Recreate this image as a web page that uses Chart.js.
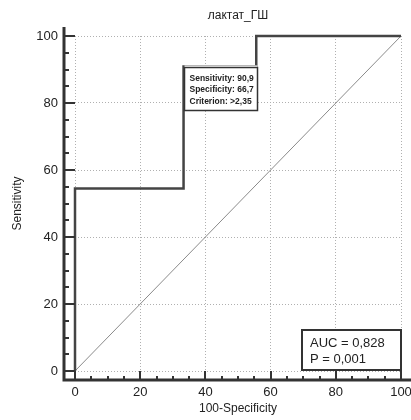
<!DOCTYPE html>
<html>
<head>
<meta charset="utf-8">
<script src="https://cdn.jsdelivr.net/npm/chart.js@4"></script>
<style>
  body { margin: 0; background: #fff; }
  #wrap { width: 411px; height: 420px; }
</style>
</head>
<body>
<div id="wrap"><canvas id="roc"></canvas></div>
<script>
const rocX = [0, 0, 33.3, 33.3, 55.6, 55.6, 100];
const rocY = [0, 54.5, 54.5, 90.9, 90.9, 100, 100];
const diagX = [0, 100];
const diagY = [0, 100];
const ticksEje = [0, 20, 40, 60, 80, 100];
const puntoCorte = { x: 33.3, y: 90.9 };
const textoCorte = ['Sensitivity: 90,9', 'Specificity: 66,7', 'Criterion: >2,35'];
const textoAuc = ['AUC = 0,828', 'P = 0,001'];

const fuente = '"Liberation Sans", Arial, sans-serif';

//* dibuja los ejes separados del area, con marcas mayores y menores
const ejes = {
    id: 'ejes',
    afterDraw(chart) {
        const { ctx, chartArea, scales } = chart;
        const ax = chartArea.left - 11;
        const ay = chartArea.bottom + 9;
        ctx.save();
        ctx.strokeStyle = '#333';
        ctx.lineWidth = 3;
        ctx.beginPath();
        ctx.moveTo(ax, chartArea.top - 9);
        ctx.lineTo(ax, ay + 1.5);
        ctx.moveTo(ax - 1.5, ay);
        ctx.lineTo(chart.width, ay);
        ctx.stroke();
        ctx.lineWidth = 2;
        ctx.beginPath();
        for (let v = 0; v <= 100; v += 5) {
            const largo = v % 20 === 0 ? 11 : 5;
            const py = Math.round(scales.y.getPixelForValue(v));
            ctx.moveTo(ax, py);
            ctx.lineTo(ax + largo, py);
            const px = Math.round(scales.x.getPixelForValue(v));
            const largoX = v % 20 === 0 ? 9 : 4;
            ctx.moveTo(px, ay);
            ctx.lineTo(px, ay - largoX);
        }
        ctx.stroke();
        ctx.restore();
    },
    afterDatasetsDraw(chart) {
        const { ctx, chartArea, scales } = chart;
        ctx.save();
        //* recuadro del punto de corte
        const bx = Math.round(scales.x.getPixelForValue(puntoCorte.x)) + 0.5;
        const by = Math.round(scales.y.getPixelForValue(puntoCorte.y)) + 1.5;
        ctx.fillStyle = '#fff';
        ctx.fillRect(bx, by - 2, 73, 45);
        ctx.strokeStyle = '#333';
        ctx.lineWidth = 1.5;
        ctx.strokeRect(bx, by, 73, 43);
        ctx.fillStyle = '#222';
        ctx.font = 'bold 8.5px ' + fuente;
        ctx.textBaseline = 'middle';
        textoCorte.forEach((t, i) => ctx.fillText(t, bx + 5, by + 11 + i * 11.5));

        //* recuadro AUC
        const w = 99, h = 40;
        const ux = chartArea.right - w;
        const uy = chartArea.bottom - h - 1;
        ctx.fillStyle = '#fff';
        ctx.fillRect(ux, uy, w, h);
        ctx.lineWidth = 2;
        ctx.strokeRect(ux, uy, w, h);
        ctx.fillStyle = '#222';
        ctx.font = '13px ' + fuente;
        textoAuc.forEach((t, i) => ctx.fillText(t, ux + 8, uy + 13 + i * 16));
        ctx.restore();
    }
};

const lienzo = document.getElementById('roc').getContext('2d');

new Chart(lienzo, {
    type: 'scatter',
    data: {
        datasets: [{
            label: 'ROC',
            data: rocX.map((x, i) => ({ x: x, y: rocY[i] })),
            showLine: true,
            borderColor: '#444',
            borderWidth: 2.5,
            pointRadius: 0,
            tension: 0,
            clip: false
        }, {
            label: 'diagonal',
            data: diagX.map((x, i) => ({ x: x, y: diagY[i] })),
            showLine: true,
            borderColor: '#8a8a8a',
            borderWidth: 1,
            pointRadius: 0,
            clip: false
        }]
    },
    options: {
        responsive: true,
        maintainAspectRatio: false,
        animation: false,
        events: [],
        layout: { padding: { top: 0, right: 10, bottom: 0, left: 0 } },
        plugins: {
            legend: { display: false },
            tooltip: { enabled: false },
            title: {
                display: true,
                fullSize: false,
                text: 'лактат_ГШ',
                color: '#222',
                font: { family: fuente, size: 12, weight: 'normal' },
                padding: { top: 8.3, bottom: 13.3 }
            }
        },
        scales: {
            x: {
                type: 'linear',
                min: 0,
                max: 100,
                afterFit: s => { s.height = 49; s.paddingLeft = 0; s.paddingRight = 0; },
                afterBuildTicks: s => { s.ticks = ticksEje.map(v => ({ value: v })); },
                ticks: { color: '#222', padding: 14, maxRotation: 0, font: { family: fuente, size: 13 } },
                grid: { color: '#b0b0b0', lineWidth: 1, drawTicks: false },
                border: { display: false, dash: [1, 2] },
                title: {
                    display: true,
                    text: '100-Specificity',
                    color: '#222',
                    font: { family: fuente, size: 12 },
                    padding: { top: 0, bottom: 4 }
                }
            },
            y: {
                type: 'linear',
                min: 0,
                max: 100,
                afterFit: s => { s.width = 75; s.paddingTop = 0; s.paddingBottom = 0; },
                afterBuildTicks: s => { s.ticks = ticksEje.map(v => ({ value: v })); },
                ticks: { color: '#222', padding: 17, font: { family: fuente, size: 13 } },
                grid: { color: '#b0b0b0', lineWidth: 1, drawTicks: false },
                border: { display: false, dash: [1, 2] },
                title: {
                    display: true,
                    text: 'Sensitivity',
                    color: '#222',
                    font: { family: fuente, size: 12 },
                    padding: { top: 10, bottom: 0 }
                }
            }
        }
    },
    plugins: [ejes]
});
</script>
</body>
</html>
